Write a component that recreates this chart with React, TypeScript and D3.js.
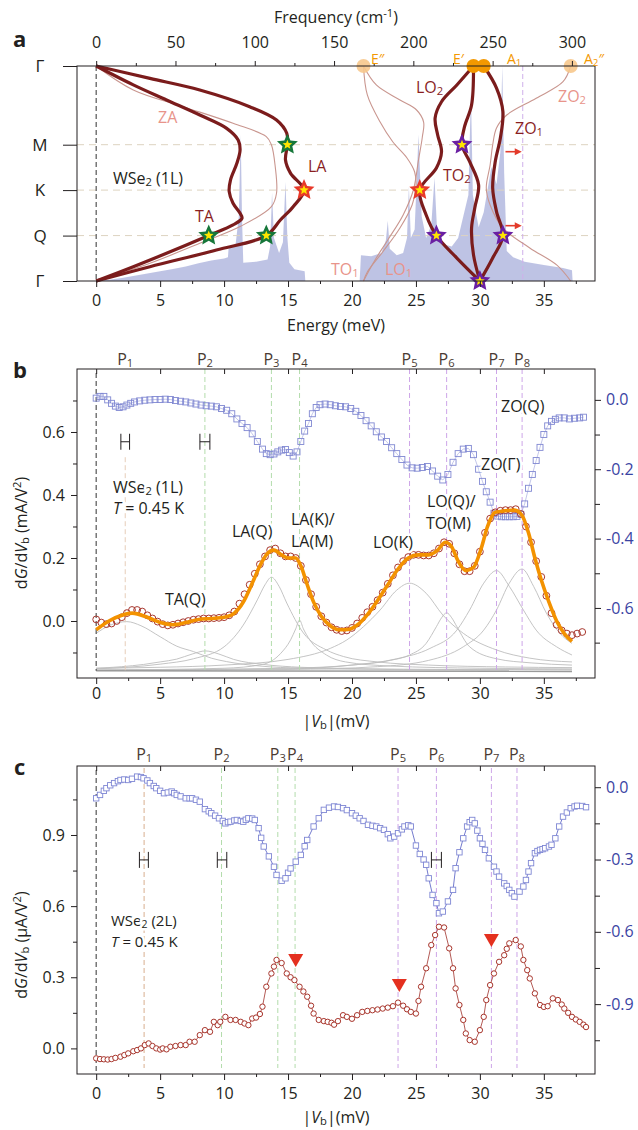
import React, { useRef, useEffect } from 'react';
import * as d3 from 'd3';

type Pt = [number, number];

const FONT = '"Open Sans", "Noto Sans", Arial, sans-serif';

// ---------------- panel a : dispersion [k along path, energy meV] ----------------
const kNodes = [0, 1, 1.577, 2.155, 2.732];
const kLabels = ['Γ', 'M', 'K', 'Q', 'Γ'];
const energyTicks = [0, 5, 10, 15, 20, 25, 30, 35];
const energyMinor = [2.5, 7.5, 12.5, 17.5, 22.5, 27.5, 32.5, 37.5];
const freqTicks = [0, 50, 100, 150, 200, 250, 300];
const freqMinor = [25, 75, 125, 175, 225, 275];
const MEV_TO_CM = 8.0655;

const branchTA: Pt[] = [[0, 0], [0.24, 2.9], [0.432, 5.5], [0.623, 8.1], [0.792, 10.2], [0.94, 11.1], [1.067, 11.25], [1.237, 11.0], [1.449, 10.5], [1.597, 10.4], [1.745, 10.7], [1.872, 11.25], [1.935, 11.4], [2.02, 10.7], [2.155, 8.8], [2.38, 5.5], [2.55, 2.9], [2.732, 0]];
const branchLA: Pt[] = [[0, 0], [0.157, 4.2], [0.305, 8.1], [0.517, 12.0], [0.686, 14.1], [0.855, 14.9], [1.0, 14.95], [1.194, 14.8], [1.364, 15.2], [1.577, 16.25], [1.788, 15.4], [1.957, 14.4], [2.155, 13.3], [2.338, 9.4], [2.55, 4.2], [2.732, 0]];
const branchLO2: Pt[] = [[0, 29.5], [0.241, 28.2], [0.454, 27.0], [0.661, 26.5], [0.877, 26.7], [1.089, 27.0], [1.296, 26.6], [1.577, 25.3], [1.893, 25.8], [2.155, 26.6], [2.44, 28.2], [2.732, 30.0]];
const branchTO2: Pt[] = [[0, 29.5], [0.496, 29.35], [0.771, 28.8], [1.0, 28.6], [1.216, 29.2], [1.512, 29.9], [1.804, 29.6], [2.058, 29.35], [2.4, 29.5], [2.732, 30.0]];
const branchZO1: Pt[] = [[0, 30.3], [0.28, 31.3], [0.58, 31.8], [0.915, 31.6], [1.216, 31.2], [1.55, 31.0], [1.851, 31.3], [2.155, 31.8], [2.44, 31.0], [2.732, 30.0]];
const branchZA: Pt[] = [[0, 0], [0.305, 2.9], [0.517, 6.8], [0.728, 10.7], [0.898, 13.3], [1.0, 13.7], [1.28, 14.0], [1.617, 14.1], [1.788, 13.7], [2.04, 11.25], [2.253, 8.1], [2.507, 4.2], [2.732, 0]];
const branchTO1: Pt[] = [[0, 20.9], [0.241, 21.9], [0.432, 23.75], [0.559, 25.05], [0.712, 25.6], [0.902, 25.5], [1.194, 25.2], [1.576, 24.8], [1.893, 24.0], [2.21, 22.8], [2.465, 21.8], [2.732, 20.9]];
const branchLO1: Pt[] = [[0, 20.9], [0.368, 21.2], [0.712, 22.2], [0.966, 23.2], [1.169, 24.3], [1.347, 24.9], [1.55, 25.0], [1.766, 24.7], [2.058, 23.75], [2.363, 22.4], [2.617, 21.2], [2.732, 20.9]];
const branchZO2: Pt[] = [[0, 37.1], [0.2, 36.5], [0.41, 34.4], [0.623, 32.1], [0.788, 31.3], [1.004, 31.0], [1.258, 30.8], [1.55, 30.5], [1.766, 30.8], [2.058, 31.8], [2.312, 33.9], [2.528, 36.0], [2.732, 37.1]];

// phonon density of states [E, relative height]
const dosAcoustic: Pt[] = [[0, 0], [1, 0.006], [2, 0.014], [3, 0.025], [4, 0.035], [5, 0.045], [6, 0.056], [7, 0.068], [8, 0.082], [9, 0.095], [10, 0.105], [10.3, 0.11], [10.35, 0.15], [10.9, 0.17], [11.15, 0.3], [11.3, 0.68], [11.4, 0.3], [11.5, 0.085], [12.5, 0.09], [13.4, 0.1], [13.6, 0.16], [13.75, 0.41], [13.9, 0.2], [14.3, 0.13], [14.6, 0.18], [14.8, 0.46], [14.95, 0.2], [15.1, 0.085], [15.5, 0.055], [16.3, 0.045], [16.35, 0]];
const dosOptical: Pt[] = [[20.6, 0], [20.7, 0.12], [21.5, 0.115], [22.3, 0.13], [22.65, 0.19], [22.8, 0.28], [22.95, 0.15], [23.5, 0.12], [24.0, 0.13], [24.3, 0.2], [24.45, 0.44], [24.6, 0.2], [24.9, 0.24], [25.2, 0.68], [25.45, 0.3], [25.8, 0.2], [26.2, 0.26], [26.45, 0.48], [26.65, 0.24], [27.2, 0.17], [27.8, 0.16], [28.3, 0.2], [28.7, 0.3], [29.1, 0.4], [29.3, 0.88], [29.45, 0.4], [29.9, 0.25], [30.3, 0.32], [30.7, 0.46], [30.9, 0.53], [31.3, 0.45], [31.6, 0.6], [31.75, 1.0], [31.9, 0.5], [32.1, 0.14], [32.6, 0.11], [33.5, 0.09], [35, 0.075], [36.5, 0.06], [37.2, 0.05], [37.25, 0]];

const starsGreen: Pt[] = [[2.155, 8.8], [2.155, 13.3], [1, 14.95]];
const starsRed: Pt[] = [[1.577, 16.25], [1.577, 25.3]];
const starsPurple: Pt[] = [[1, 28.6], [2.155, 26.6], [2.155, 31.8], [2.732, 30.0]];
const gammaModes = ['E″', 'E′', 'A_{1}', 'A_{2}″'];
const gammaEnergies = [20.9, 29.5, 30.3, 37.1];
const arrowRows = [1.089, 2.029];
const arrowStart = 32.0;
const zoCut = 33.35;

// ---------------- panel b : 1L ----------------
const peaksB = [2.27, 8.5, 13.7, 15.9, 24.5, 27.4, 31.3, 33.3];
const didvB: Pt[] = [[0.0, 0.005], [0.4, -0.005], [0.8, -0.01], [1.2, -0.008], [1.6, 0.0], [2.0, 0.012], [2.4, 0.025], [2.8, 0.035], [3.2, 0.035], [3.6, 0.03], [4.0, 0.018], [4.4, 0.008], [4.8, -0.002], [5.2, -0.01], [5.6, -0.014], [6.0, -0.012], [6.4, -0.008], [6.8, -0.004], [7.2, 0.0], [7.6, 0.004], [8.0, 0.006], [8.4, 0.008], [8.8, 0.008], [9.2, 0.009], [9.6, 0.01], [10.0, 0.012], [10.4, 0.018], [10.8, 0.03], [11.2, 0.055], [11.6, 0.085], [12.0, 0.115], [12.4, 0.15], [12.8, 0.18], [13.2, 0.205], [13.6, 0.225], [14.0, 0.23], [14.4, 0.215], [14.8, 0.205], [15.2, 0.205], [15.6, 0.2], [16.0, 0.175], [16.4, 0.13], [16.8, 0.085], [17.2, 0.045], [17.6, 0.015], [18.0, -0.005], [18.4, -0.02], [18.8, -0.028], [19.2, -0.032], [19.6, -0.03], [20.0, -0.022], [20.4, -0.008], [20.8, 0.01], [21.2, 0.028], [21.6, 0.045], [22.0, 0.066], [22.4, 0.09], [22.8, 0.118], [23.2, 0.145], [23.6, 0.17], [24.0, 0.19], [24.4, 0.203], [24.8, 0.21], [25.2, 0.21], [25.6, 0.208], [26.0, 0.208], [26.4, 0.215], [26.8, 0.23], [27.2, 0.25], [27.6, 0.245], [28.0, 0.215], [28.4, 0.18], [28.8, 0.158], [29.2, 0.158], [29.6, 0.175], [30.0, 0.22], [30.4, 0.28], [30.8, 0.325], [31.2, 0.345], [31.6, 0.35], [32.0, 0.352], [32.4, 0.352], [32.8, 0.355], [33.2, 0.34], [33.6, 0.3], [34.0, 0.25], [34.4, 0.19], [34.8, 0.14], [35.2, 0.08], [35.6, 0.025], [36.0, -0.012], [36.4, -0.03], [36.8, -0.04], [37.2, -0.045], [37.6, -0.04], [38.0, -0.035]];
const fitB: Pt[] = [[0, -0.028], [1, 0.0], [2, 0.018], [2.8, 0.025], [4, 0.012], [5, -0.005], [6, -0.012], [7, -0.005], [8, 0.005], [9, 0.008], [10, 0.012], [10.8, 0.025], [11.5, 0.06], [12.2, 0.12], [12.8, 0.175], [13.3, 0.21], [13.9, 0.225], [14.5, 0.21], [15.0, 0.2], [15.6, 0.2], [16.0, 0.175], [16.5, 0.115], [17.0, 0.06], [17.6, 0.015], [18.3, -0.015], [19.0, -0.028], [19.7, -0.027], [20.5, -0.01], [21.3, 0.025], [22.0, 0.065], [22.8, 0.115], [23.6, 0.165], [24.4, 0.2], [25.2, 0.21], [26.0, 0.21], [26.7, 0.225], [27.3, 0.25], [27.8, 0.235], [28.3, 0.19], [28.9, 0.16], [29.5, 0.17], [30.1, 0.23], [30.6, 0.3], [31.2, 0.345], [32.0, 0.35], [32.7, 0.352], [33.3, 0.335], [33.8, 0.28], [34.3, 0.2], [34.8, 0.13], [35.4, 0.06], [36.0, 0.0], [36.6, -0.04], [37.2, -0.065]];
const d2B: Pt[] = [[0.0, 0.005], [0.3, 0.01], [0.6, 0.01], [0.9, 0.0], [1.2, -0.01], [1.5, -0.018], [1.8, -0.022], [2.1, -0.02], [2.4, -0.015], [2.7, -0.01], [3.0, -0.006], [3.4, -0.003], [3.8, -0.001], [4.2, 0.0], [4.6, 0.001], [5.0, 0.001], [5.4, 0.002], [5.8, 0.001], [6.2, -0.002], [6.6, -0.004], [7.0, -0.006], [7.4, -0.009], [7.8, -0.012], [8.2, -0.015], [8.6, -0.017], [9.0, -0.018], [9.4, -0.02], [9.8, -0.025], [10.2, -0.03], [10.6, -0.04], [11.0, -0.055], [11.4, -0.068], [11.8, -0.08], [12.2, -0.098], [12.6, -0.12], [13.0, -0.142], [13.3, -0.155], [13.6, -0.158], [13.9, -0.156], [14.2, -0.15], [14.5, -0.145], [14.8, -0.143], [15.1, -0.152], [15.4, -0.162], [15.7, -0.15], [16.0, -0.12], [16.3, -0.09], [16.6, -0.068], [16.9, -0.04], [17.2, -0.022], [17.5, -0.014], [17.9, -0.012], [18.3, -0.014], [18.7, -0.017], [19.1, -0.019], [19.5, -0.02], [19.9, -0.025], [20.3, -0.033], [20.7, -0.045], [21.1, -0.06], [21.5, -0.075], [21.9, -0.092], [22.3, -0.107], [22.7, -0.12], [23.1, -0.138], [23.5, -0.155], [23.9, -0.172], [24.3, -0.188], [24.7, -0.196], [25.1, -0.197], [25.5, -0.195], [25.9, -0.192], [26.3, -0.205], [26.7, -0.22], [27.1, -0.231], [27.5, -0.215], [27.9, -0.18], [28.3, -0.155], [28.7, -0.142], [29.1, -0.14], [29.5, -0.158], [29.9, -0.2], [30.2, -0.235], [30.5, -0.265], [30.8, -0.295], [31.1, -0.327], [31.4, -0.335], [31.7, -0.337], [32.0, -0.337], [32.3, -0.337], [32.6, -0.337], [32.9, -0.336], [33.2, -0.33], [33.5, -0.3], [33.8, -0.255], [34.1, -0.215], [34.4, -0.175], [34.7, -0.137], [35.0, -0.1], [35.3, -0.075], [35.6, -0.062], [35.9, -0.056], [36.2, -0.052], [36.6, -0.052], [37.0, -0.055], [37.4, -0.053], [37.8, -0.052], [38.1, -0.05]];
// Lorentzian components of the fit
const compB1: Pt[] = [[0, -0.039], [1, -0.015], [2.4, -0.002], [3.5, -0.015], [5, -0.05], [6.3, -0.08], [7.6, -0.097], [9, -0.118], [10.2, -0.129], [12.8, -0.143], [16, -0.15], [20, -0.153], [28, -0.155], [37.2, -0.156]];
const compB2: Pt[] = [[0, -0.15], [2, -0.145], [3.7, -0.138], [5, -0.13], [6.3, -0.121], [7.5, -0.105], [8.55, -0.095], [9.6, -0.105], [10.75, -0.122], [13.1, -0.138], [16, -0.147], [20, -0.151], [28, -0.154], [37.2, -0.155]];
const compB3: Pt[] = [[0, -0.152], [5, -0.137], [7.6, -0.12], [10, -0.082], [11.5, -0.013], [12.6, 0.067], [13.2, 0.115], [13.7, 0.139], [14.3, 0.11], [14.9, 0.057], [16.2, -0.038], [18, -0.092], [19.35, -0.113], [22, -0.13], [26, -0.14], [32, -0.146], [37.2, -0.148]];
const compB4: Pt[] = [[0, -0.156], [10, -0.15], [13, -0.138], [14.4, -0.104], [15.2, -0.06], [15.6, -0.025], [15.9, 0.003], [16.2, -0.025], [16.7, -0.06], [18, -0.108], [19.5, -0.13], [23, -0.143], [30, -0.15], [37.2, -0.152]];
const compB5: Pt[] = [[0, -0.15], [5, -0.147], [10, -0.14], [15, -0.122], [18.3, -0.087], [19.6, -0.06], [20.9, -0.018], [22.2, 0.035], [23.5, 0.098], [24.5, 0.12], [25.8, 0.088], [27.1, 0.019], [28.7, -0.039], [31.3, -0.092], [33.9, -0.118], [37.2, -0.13]];
const compB6: Pt[] = [[0, -0.156], [15, -0.15], [20, -0.14], [23, -0.125], [24.5, -0.108], [25.8, -0.071], [26.6, -0.018], [27.0, 0.01], [27.4, 0.026], [27.8, 0.01], [28.2, -0.018], [29.2, -0.082], [31.3, -0.12], [34, -0.133], [37.2, -0.14]];
const compB7: Pt[] = [[0, -0.156], [15, -0.152], [20, -0.14], [23.5, -0.12], [26.1, -0.087], [28.2, -0.029], [29.2, 0.035], [30.3, 0.12], [31.3, 0.16], [32.3, 0.11], [33.4, 0.035], [34.4, -0.029], [36, -0.082], [37.2, -0.108]];
const compB8: Pt[] = [[0, -0.157], [15, -0.154], [22, -0.145], [26, -0.125], [28.7, -0.082], [30.3, -0.029], [31.3, 0.035], [32.3, 0.12], [33.3, 0.165], [34.2, 0.11], [35.2, 0.025], [36.25, -0.039], [37.2, -0.071]];
const baselineB: Pt[] = [[0, -0.158], [37.2, -0.16]];
const errB: Pt[] = [[2.27, 0.34], [8.5, 0.39]];
const errRowB = 0.569;

// ---------------- panel c : 2L ----------------
const peaksC = [3.75, 9.8, 14.2, 15.55, 23.6, 26.6, 30.9, 32.9];
const didvC: Pt[] = [[0.0, -0.042], [0.3, -0.045], [0.6, -0.046], [0.9, -0.047], [1.2, -0.045], [1.5, -0.04], [1.9, -0.035], [2.2, -0.028], [2.5, -0.021], [2.9, -0.012], [3.2, -0.007], [3.5, 0.0], [3.8, 0.014], [4.1, 0.021], [4.4, 0.01], [4.7, 0.0], [5.0, -0.005], [5.2, 0.0], [5.5, -0.004], [5.8, 0.007], [6.2, 0.01], [6.6, 0.014], [7.0, 0.014], [7.3, 0.028], [7.7, 0.028], [8.1, 0.056], [8.5, 0.077], [8.9, 0.07], [9.2, 0.112], [9.5, 0.098], [9.7, 0.112], [10.1, 0.133], [10.5, 0.12], [10.9, 0.12], [11.3, 0.112], [11.6, 0.105], [11.9, 0.098], [12.2, 0.126], [12.5, 0.13], [12.8, 0.145], [13.0, 0.176], [13.3, 0.26], [13.7, 0.316], [13.9, 0.345], [14.1, 0.373], [14.5, 0.36], [14.9, 0.316], [15.2, 0.3], [15.5, 0.288], [15.9, 0.26], [16.2, 0.24], [16.5, 0.218], [16.8, 0.18], [17.0, 0.147], [17.4, 0.12], [17.8, 0.115], [18.1, 0.112], [18.4, 0.108], [18.6, 0.1], [18.9, 0.115], [19.3, 0.14], [19.6, 0.133], [20.0, 0.125], [20.4, 0.14], [20.8, 0.154], [21.2, 0.158], [21.6, 0.161], [22.0, 0.164], [22.4, 0.168], [22.8, 0.172], [23.2, 0.178], [23.6, 0.193], [24.0, 0.18], [24.3, 0.165], [24.6, 0.154], [25.0, 0.147], [25.2, 0.2], [25.4, 0.26], [25.8, 0.338], [26.2, 0.436], [26.5, 0.478], [26.8, 0.513], [27.2, 0.51], [27.6, 0.422], [27.9, 0.338], [28.1, 0.253], [28.4, 0.183], [28.7, 0.12], [28.9, 0.063], [29.2, 0.035], [29.6, 0.028], [30.0, 0.077], [30.3, 0.133], [30.5, 0.204], [30.8, 0.267], [31.1, 0.316], [31.5, 0.365], [31.9, 0.393], [32.1, 0.42], [32.3, 0.443], [32.8, 0.457], [33.2, 0.43], [33.4, 0.373], [33.7, 0.33], [33.9, 0.295], [34.3, 0.232], [34.7, 0.183], [35.0, 0.175], [35.3, 0.178], [35.7, 0.211], [36.1, 0.204], [36.4, 0.185], [36.6, 0.168], [36.9, 0.15], [37.2, 0.133], [37.5, 0.122], [37.8, 0.112], [38.1, 0.1], [38.3, 0.09]];
const d2C: Pt[] = [[0.0, -0.046], [0.3, -0.032], [0.6, -0.015], [0.8, -0.004], [1.1, 0.008], [1.4, 0.017], [1.7, 0.025], [1.9, 0.03], [2.2, 0.032], [2.5, 0.03], [2.8, 0.035], [3.2, 0.044], [3.5, 0.042], [3.7, 0.037], [4.0, 0.028], [4.2, 0.017], [4.5, 0.005], [4.7, -0.004], [5.0, -0.015], [5.3, -0.025], [5.6, -0.022], [5.9, -0.018], [6.1, -0.025], [6.3, -0.032], [6.6, -0.038], [7.0, -0.046], [7.3, -0.046], [7.5, -0.046], [7.8, -0.052], [8.1, -0.06], [8.5, -0.091], [8.8, -0.1], [9.0, -0.108], [9.3, -0.118], [9.6, -0.129], [9.9, -0.14], [10.1, -0.15], [10.3, -0.145], [10.5, -0.143], [10.8, -0.138], [11.0, -0.136], [11.3, -0.14], [11.5, -0.143], [11.7, -0.135], [11.9, -0.129], [12.2, -0.13], [12.4, -0.136], [12.7, -0.17], [12.9, -0.21], [13.1, -0.246], [13.5, -0.287], [13.9, -0.33], [14.1, -0.364], [14.5, -0.388], [14.8, -0.378], [15.0, -0.355], [15.2, -0.337], [15.6, -0.309], [16.0, -0.281], [16.3, -0.245], [16.5, -0.219], [17.0, -0.163], [17.4, -0.129], [17.8, -0.094], [18.2, -0.085], [18.6, -0.08], [18.9, -0.082], [19.3, -0.087], [19.6, -0.095], [20.0, -0.108], [20.3, -0.118], [20.6, -0.129], [20.9, -0.14], [21.25, -0.156], [21.6, -0.16], [21.9, -0.163], [22.2, -0.17], [22.5, -0.177], [22.8, -0.195], [23.0, -0.212], [23.3, -0.205], [23.6, -0.191], [23.9, -0.175], [24.1, -0.163], [24.4, -0.158], [24.6, -0.163], [25.0, -0.242], [25.3, -0.277], [25.6, -0.3], [25.8, -0.322], [26.0, -0.378], [26.3, -0.447], [26.6, -0.481], [26.8, -0.523], [27.1, -0.516], [27.5, -0.474], [27.9, -0.426], [28.1, -0.336], [28.4, -0.27], [28.7, -0.212], [29.0, -0.163], [29.2, -0.145], [29.4, -0.136], [29.6, -0.15], [29.8, -0.18], [30.0, -0.212], [30.2, -0.235], [30.4, -0.26], [30.7, -0.295], [31.1, -0.33], [31.3, -0.35], [31.5, -0.371], [31.9, -0.399], [32.1, -0.41], [32.3, -0.426], [32.5, -0.44], [32.7, -0.454], [33.1, -0.433], [33.4, -0.412], [33.6, -0.385], [33.8, -0.35], [34.0, -0.315], [34.3, -0.274], [34.5, -0.265], [34.7, -0.26], [34.9, -0.257], [35.1, -0.253], [35.4, -0.246], [35.6, -0.239], [35.9, -0.212], [36.2, -0.163], [36.5, -0.122], [36.8, -0.105], [37.1, -0.087], [37.4, -0.08], [37.6, -0.077], [38.0, -0.078], [38.3, -0.083]];
const errC: Pt[] = [[3.73, 0.35], [9.84, 0.37], [26.6, 0.39]];
const errRowC = 0.795;
const triC: Pt[] = [[15.6, 0.373], [23.7, 0.267], [30.9, 0.457]];

const pColor = (i: number) => (i === 0 ? '#e7cdb9' : i < 4 ? '#b3dcac' : '#cda5e8');
const fmt1 = (d: any) => d3.format('.1f')(d).replace('−', '-').replace('-0.0', '0.0');

function starPath(R: number, r: number) {
  const pts = d3.range(10).map(i => {
    const a = -Math.PI / 2 + (i * Math.PI) / 5;
    const rad = i % 2 === 0 ? R : r;
    return [rad * Math.cos(a), rad * Math.sin(a)];
  });
  return 'M' + pts.map(p => p[0].toFixed(2) + ',' + p[1].toFixed(2)).join('L') + 'Z';
}

function rich(g: any, x: number, y: number, src: string, opt: any = {}) {
  const size = opt.size ?? 16;
  const t = g.append('text').attr('x', x).attr('y', y).attr('font-size', size)
    .attr('font-family', FONT)
    .attr('fill', opt.fill ?? '#231f20').attr('text-anchor', opt.anchor ?? 'start');
  if (opt.halo) t.attr('stroke', '#fff').attr('stroke-width', 5).attr('paint-order', 'stroke').attr('stroke-linejoin', 'round');
  if (opt.rotate) t.attr('transform', `rotate(${opt.rotate},${x},${y})`);
  if (opt.bold) t.attr('font-weight', 'bold');
  const tokens = src.split(/(_\{[^}]*\}|\^\{[^}]*\}|\*[^*]+\*)/).filter(s => s.length);
  let shift = 0;
  tokens.forEach(tok => {
    let txt = tok, target = 0, small = false, it = false;
    if (tok.startsWith('_{')) { txt = tok.slice(2, -1); target = size * 0.15; small = true; }
    else if (tok.startsWith('^{')) { txt = tok.slice(2, -1); target = -size * 0.38; small = true; }
    else if (tok.length > 2 && tok.startsWith('*') && tok.endsWith('*')) { txt = tok.slice(1, -1); it = true; }
    const ts = t.append('tspan').text(txt);
    if (target - shift !== 0) ts.attr('dy', target - shift);
    shift = target;
    if (small) ts.attr('font-size', size * 0.7);
    if (it) ts.attr('font-style', 'italic');
  });
  return t;
}

function axis(g: any, gen: any, tx: number, ty: number, fill = '#231f20') {
  const a = g.append('g').attr('transform', `translate(${tx},${ty})`).call(gen);
  a.select('.domain').remove();
  a.attr('font-size', 16).attr('font-family', FONT);
  a.selectAll('text').attr('fill', fill);
  a.selectAll('line').attr('stroke', '#231f20');
  return a;
}

const App = () => {
  const ref = useRef<SVGSVGElement>(null);

  useEffect(() => {
    const svg = d3.select(ref.current);
    svg.selectAll('*').remove();
    const L = 77, R = 595;
    const xE = d3.scaleLinear().domain([-1.5, 39]).range([L, R]);
    const xF = d3.scaleLinear().domain([-1.5 * MEV_TO_CM, 39 * MEV_TO_CM]).range([L, R]);

    // ================= panel a =================
    const aTop = 66, aBot = 281;
    const yK = d3.scaleLinear().domain([0, 2.732]).range([aTop, aBot]);
    const yDos = d3.scaleLinear().domain([0, 1]).range([aBot, aTop]);
    const ga = svg.append('g');

    const dosArea = d3.area<Pt>().x(d => xE(d[0])).y0(yDos(0)).y1(d => yDos(d[1]));
    [dosAcoustic, dosOptical].forEach(d => {
      ga.append('path').datum(d).attr('d', dosArea).attr('fill', '#b3b8df').attr('opacity', 0.85);
    });

    kNodes.slice(1, 4).forEach(k => {
      ga.append('line').attr('x1', L).attr('x2', R).attr('y1', yK(k)).attr('y2', yK(k))
        .attr('stroke', '#ddd3c0').attr('stroke-dasharray', '7,5').attr('stroke-width', 1);
    });
    ga.append('line').attr('x1', xE(0)).attr('x2', xE(0)).attr('y1', aTop).attr('y2', aBot)
      .attr('stroke', '#555').attr('stroke-dasharray', '5,3').attr('stroke-width', 1.2);
    ga.append('line').attr('x1', xE(zoCut)).attr('x2', xE(zoCut)).attr('y1', aTop).attr('y2', aBot)
      .attr('stroke', '#cfb0ea').attr('stroke-dasharray', '5,3').attr('stroke-width', 1);

    const branch = d3.line<Pt>().x(d => xE(d[1])).y(d => yK(d[0])).curve(d3.curveCatmullRom.alpha(0.5));
    [branchZA, branchTO1, branchLO1, branchZO2].forEach(b => {
      ga.append('path').datum(b).attr('d', branch).attr('fill', 'none').attr('stroke', '#c9968f').attr('stroke-width', 1.1);
    });
    [branchTA, branchLA, branchLO2, branchTO2, branchZO1].forEach(b => {
      ga.append('path').datum(b).attr('d', branch).attr('fill', 'none').attr('stroke', '#7b1c1c').attr('stroke-width', 3.2);
    });

    // arrows toward the ZO cut
    arrowRows.forEach(k => {
      const y = yK(k);
      ga.append('line').attr('x1', xE(arrowStart)).attr('x2', xE(zoCut) - 5).attr('y1', y).attr('y2', y)
        .attr('stroke', '#e33a2a').attr('stroke-width', 1.6);
      const tip = xE(zoCut) - 1;
      ga.append('path').attr('d', `M${tip},${y}L${tip - 7},${y - 3.5}L${tip - 7},${y + 3.5}Z`).attr('fill', '#e33a2a');
    });

    // gamma-point modes
    gammaEnergies.forEach((e, i) => {
      const strong = i === 1 || i === 2;
      ga.append('circle').attr('cx', xE(e)).attr('cy', yK(0)).attr('r', 7)
        .attr('fill', strong ? '#f39800' : '#f7c88c').attr('opacity', strong ? 1 : 0.9);
    });

    const outer = starPath(11, 5.2), inner = starPath(5, 2.2);
    const drawStars = (pts: Pt[], fill: string) => {
      pts.forEach(p => {
        const g = ga.append('g').attr('transform', `translate(${xE(p[1])},${yK(p[0])})`);
        g.append('path').attr('d', outer).attr('fill', fill);
        g.append('path').attr('d', inner).attr('fill', '#ffe500');
      });
    };
    drawStars(starsGreen, '#16773a');
    drawStars(starsRed, '#e8392a');
    drawStars(starsPurple, '#6a1fa2');

    ga.append('rect').attr('x', L).attr('y', aTop).attr('width', R - L).attr('height', aBot - aTop)
      .attr('fill', 'none').attr('stroke', '#231f20').attr('stroke-width', 1);

    axis(ga, d3.axisBottom(xE).tickValues(energyTicks).tickSize(6).tickPadding(8), 0, aBot);
    axis(ga, d3.axisBottom(xE).tickValues(energyMinor).tickSize(3).tickFormat(() => ''), 0, aBot);
    axis(ga, d3.axisTop(xF).tickValues(freqTicks).tickSize(5).tickPadding(13), 0, aTop);
    axis(ga, d3.axisTop(xF).tickValues(freqMinor).tickSize(3).tickFormat(() => ''), 0, aTop);
    const ka = axis(ga, d3.axisLeft(yK).tickValues(kNodes).tickSize(14).tickFormat((d: any, i: number) => kLabels[i]), L, 0);
    ka.selectAll('text').attr('x', -37).attr('text-anchor', 'middle').attr('font-size', 17);

    rich(ga, 336, 23, 'Frequency (cm^{-1})', { anchor: 'middle' });
    rich(ga, 336, 331, 'Energy (meV)', { anchor: 'middle' });
    rich(ga, 13, 47, 'a', { size: 22, bold: true });

    const dark = '#8a1f1f', pink = '#e8948a', orange = '#f39800';
    rich(ga, 158, 123, 'ZA', { fill: pink });
    rich(ga, 113, 184, 'WSe_{2} (1L)');
    rich(ga, 195, 222, 'TA', { fill: dark });
    rich(ga, 308, 172, 'LA', { fill: dark });
    rich(ga, 416, 93, 'LO_{2}', { fill: dark });
    rich(ga, 443, 181, 'TO_{2}', { fill: dark });
    rich(ga, 515, 134, 'ZO_{1}', { fill: dark });
    rich(ga, 558, 102, 'ZO_{2}', { fill: pink });
    rich(ga, 331, 275, 'TO_{1}', { fill: pink });
    rich(ga, 385, 275, 'LO_{1}', { fill: pink });
    const gx = [371, 453, 507, 584];
    gammaModes.forEach((m, i) => rich(ga, gx[i], 64, m, { fill: orange, size: 14 }));

    // ================= panel b =================
    const bTop = 369, bBot = 678;
    const yB = d3.scaleLinear().domain([-0.181, 0.8]).range([bBot, bTop]);
    const yB2 = d3.scaleLinear().domain([-0.802, 0.089]).range([bBot, bTop]);
    const gb = svg.append('g');

    const lineB = d3.line<Pt>().x(d => xE(d[0])).y(d => yB(d[1])).curve(d3.curveMonotoneX);
    [compB1, compB2, compB3, compB4, compB5, compB6, compB7, compB8].forEach(c => {
      gb.append('path').datum(c).attr('d', lineB).attr('fill', 'none').attr('stroke', '#bdbdbd').attr('stroke-width', 0.9);
    });
    gb.append('path').datum(baselineB).attr('d', lineB).attr('fill', 'none').attr('stroke', '#9a9a9a').attr('stroke-width', 1.6);

    gb.append('line').attr('x1', xE(0)).attr('x2', xE(0)).attr('y1', bTop + 4).attr('y2', yB(-0.158))
      .attr('stroke', '#555').attr('stroke-dasharray', '5,3').attr('stroke-width', 1.2);
    peaksB.forEach((p, i) => {
      gb.append('line').attr('x1', xE(p)).attr('x2', xE(p)).attr('y1', i === 0 ? yB(0.52) : bTop)
        .attr('y2', yB(-0.16)).attr('stroke', pColor(i)).attr('stroke-dasharray', '5,3').attr('stroke-width', 1);
      rich(gb, xE(p), 365, `P_{${i + 1}}`, { anchor: 'middle', fill: '#4a3b33' });
    });

    const d2LineB = d3.line<Pt>().x(d => xE(d[0])).y(d => yB2(d[1]));
    gb.append('path').datum(d2B).attr('d', d2LineB).attr('fill', 'none').attr('stroke', '#9aa0dc').attr('stroke-width', 0.6);
    gb.selectAll('rect.sqb').data(d2B).enter().append('rect')
      .attr('x', d => xE(d[0]) - 3).attr('y', d => yB2(d[1]) - 3).attr('width', 6).attr('height', 6)
      .attr('fill', 'none').attr('stroke', '#8088d2').attr('stroke-width', 0.9);
    gb.selectAll('circle.cb').data(didvB).enter().append('circle')
      .attr('cx', d => xE(d[0])).attr('cy', d => yB(d[1])).attr('r', 3.4)
      .attr('fill', 'none').attr('stroke', '#a8372e').attr('stroke-width', 1);
    gb.append('path').datum(fitB).attr('d', lineB).attr('fill', 'none').attr('stroke', '#f39200').attr('stroke-width', 3.6);

    const drawErr = (g: any, pts: Pt[], yv: number) => {
      pts.forEach(p => {
        const x0 = xE(p[0] - p[1]), x1 = xE(p[0] + p[1]), y = yv;
        g.append('path').attr('d', `M${x0},${y - 8}V${y + 8}M${x0},${y}H${x1}M${x1},${y - 8}V${y + 8}`)
          .attr('stroke', '#231f20').attr('stroke-width', 1).attr('fill', 'none');
      });
    };
    drawErr(gb, errB, yB(errRowB));

    gb.append('rect').attr('x', L).attr('y', bTop).attr('width', R - L).attr('height', bBot - bTop)
      .attr('fill', 'none').attr('stroke', '#231f20').attr('stroke-width', 1);
    axis(gb, d3.axisBottom(xE).tickValues(energyTicks).tickSize(6).tickPadding(4), 0, bBot);
    axis(gb, d3.axisBottom(xE).tickValues(energyMinor).tickSize(3).tickFormat(() => ''), 0, bBot);
    axis(gb, d3.axisTop(xE).tickValues(energyTicks).tickSize(-5).tickFormat(() => ''), 0, bTop);
    axis(gb, d3.axisLeft(yB).tickValues([0, 0.2, 0.4, 0.6]).tickSize(6).tickPadding(6).tickFormat(fmt1), L, 0);
    axis(gb, d3.axisLeft(yB).tickValues([-0.1, 0.1, 0.3, 0.5, 0.7]).tickSize(4).tickFormat(() => ''), L, 0);
    axis(gb, d3.axisRight(yB2).tickValues([0, -0.2, -0.4, -0.6]).tickSize(6).tickPadding(5).tickFormat(fmt1), R, 0, '#3b44a3');
    axis(gb, d3.axisRight(yB2).tickValues([-0.1, -0.3, -0.5, -0.7]).tickSize(5).tickFormat(() => ''), R, 0);

    rich(gb, 13, 378, 'b', { size: 22, bold: true });
    rich(gb, 336, 727, '|*V*_{b}|(mV)', { anchor: 'middle' });
    rich(gb, 27, 533, 'd*G*/d*V*_{b} (mA/V^{2})', { anchor: 'middle', rotate: -90 });
    rich(gb, 113, 493, 'WSe_{2} (1L)', { halo: true });
    rich(gb, 113, 514, '*T* = 0.45 K', { halo: true });
    rich(gb, 165, 605, 'TA(Q)', { halo: true });
    rich(gb, 232, 537, 'LA(Q)', { halo: true });
    rich(gb, 291, 525, 'LA(K)/', { halo: true });
    rich(gb, 291, 547, 'LA(M)', { halo: true });
    rich(gb, 373, 548, 'LO(K)', { halo: true });
    rich(gb, 427, 507, 'LO(Q)/', { halo: true });
    rich(gb, 426, 529, 'TO(M)', { halo: true });
    rich(gb, 481, 470, 'ZO(Γ)', { halo: true });
    rich(gb, 501, 412, 'ZO(Q)', { halo: true });

    // ================= panel c =================
    const cTop = 766, cBot = 1074;
    const yC = d3.scaleLinear().domain([-0.108, 1.191]).range([cBot, cTop]);
    const yC2 = d3.scaleLinear().domain([-1.19, 0.088]).range([cBot, cTop]);
    const gc = svg.append('g');

    gc.append('line').attr('x1', xE(0)).attr('x2', xE(0)).attr('y1', cTop + 4).attr('y2', cBot - 2)
      .attr('stroke', '#555').attr('stroke-dasharray', '5,3').attr('stroke-width', 1.2);
    peaksC.forEach((p, i) => {
      gc.append('line').attr('x1', xE(p)).attr('x2', xE(p)).attr('y1', cTop + 2).attr('y2', cBot - 6)
        .attr('stroke', pColor(i)).attr('stroke-dasharray', '5,3').attr('stroke-width', i === 0 ? 1.6 : 1);
      rich(gc, xE(p), 760, `P_{${i + 1}}`, { anchor: 'middle', fill: '#4a3b33' });
    });

    const d2LineC = d3.line<Pt>().x(d => xE(d[0])).y(d => yC2(d[1]));
    gc.append('path').datum(d2C).attr('d', d2LineC).attr('fill', 'none').attr('stroke', '#5059c2').attr('stroke-width', 0.8);
    gc.selectAll('rect.sqc').data(d2C).enter().append('rect')
      .attr('x', d => xE(d[0]) - 2.7).attr('y', d => yC2(d[1]) - 2.7).attr('width', 5.4).attr('height', 5.4)
      .attr('fill', '#fff').attr('stroke', '#7f87d4').attr('stroke-width', 0.9);
    const didvLineC = d3.line<Pt>().x(d => xE(d[0])).y(d => yC(d[1]));
    gc.append('path').datum(didvC).attr('d', didvLineC).attr('fill', 'none').attr('stroke', '#a0302a').attr('stroke-width', 0.8);
    gc.selectAll('circle.cc').data(didvC).enter().append('circle')
      .attr('cx', d => xE(d[0])).attr('cy', d => yC(d[1])).attr('r', 2.7)
      .attr('fill', '#fff').attr('stroke', '#a8352c').attr('stroke-width', 1);

    triC.forEach(t => {
      const x = xE(t[0]), y = yC(t[1]);
      gc.append('path').attr('d', `M${x - 7.5},${y - 6}L${x + 7.5},${y - 6}L${x},${y + 7}Z`).attr('fill', '#e4301f');
    });
    drawErr(gc, errC, yC(errRowC));

    gc.append('rect').attr('x', L).attr('y', cTop).attr('width', R - L).attr('height', cBot - cTop)
      .attr('fill', 'none').attr('stroke', '#231f20').attr('stroke-width', 1);
    axis(gc, d3.axisBottom(xE).tickValues(energyTicks).tickSize(6).tickPadding(8), 0, cBot);
    axis(gc, d3.axisBottom(xE).tickValues(energyMinor).tickSize(3).tickFormat(() => ''), 0, cBot);
    axis(gc, d3.axisTop(xE).tickValues(energyTicks).tickSize(-5).tickFormat(() => ''), 0, cTop);
    axis(gc, d3.axisLeft(yC).tickValues([0, 0.3, 0.6, 0.9]).tickSize(6).tickPadding(6).tickFormat(fmt1), L, 0);
    axis(gc, d3.axisLeft(yC).tickValues([0.15, 0.45, 0.75, 1.05]).tickSize(4).tickFormat(() => ''), L, 0);
    axis(gc, d3.axisRight(yC2).tickValues([0, -0.3, -0.6, -0.9]).tickSize(6).tickPadding(5).tickFormat(fmt1), R, 0, '#3b44a3');
    axis(gc, d3.axisRight(yC2).tickValues([-0.15, -0.45, -0.75, -1.05]).tickSize(5).tickFormat(() => ''), R, 0);

    rich(gc, 14, 775, 'c', { size: 22, bold: true });
    rich(gc, 336, 1123, '|*V*_{b}|(mV)', { anchor: 'middle' });
    rich(gc, 27, 945, 'd*G*/d*V*_{b} (μA/V^{2})', { anchor: 'middle', rotate: -90 });
    rich(gc, 111, 926, 'WSe_{2} (2L)', { halo: true, size: 15 });
    rich(gc, 111, 947, '*T* = 0.45 K', { halo: true, size: 15 });
  }, []);

  return (
    <svg ref={ref} width={638} height={1130}
      style={{ position: 'absolute', left: 0, top: 0, background: '#fff', fontFamily: FONT }} />
  );
};

export default App;
